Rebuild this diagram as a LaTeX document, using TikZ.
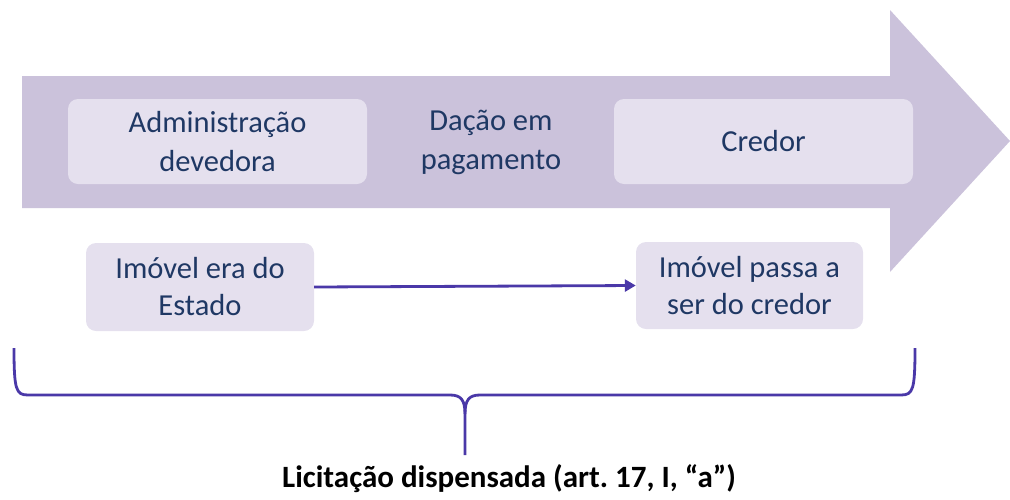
\documentclass[tikz,border=0pt]{standalone}
\usepackage{fontspec}
\setmainfont{Carlito}
\usepackage{tikz}
\usetikzlibrary{calc,arrows.meta}
\definecolor{setafill}{HTML}{CBC2DB}
\definecolor{caixafill}{HTML}{E5E0EE}
\definecolor{textoazul}{HTML}{1F3864}
\definecolor{linharoxa}{HTML}{4A38A8}

\begin{document}
\begin{tikzpicture}[x=1pt,y=-1pt,
  caixa/.style={fill=caixafill,rounded corners=10pt,text=textoazul,align=center,
    font=\fontsize{30.5}{39}\selectfont,inner sep=0pt},
  ligacao/.style={draw=linharoxa,line width=2.8pt},
  chave/.style={draw=linharoxa,line width=2.8pt}]
\useasboundingbox (0,0) rectangle (1010,499);
\fill[setafill] (22,76) -- (890,76) -- (890,10) -- (1010,141) -- (890,272) -- (890,208) -- (22,208) -- cycle;
\node[caixa,minimum width=299pt,minimum height=85pt] (devedora) at (217.5,141.5) {Administração\\devedora};
\node[text=textoazul,align=center,font=\fontsize{30.5}{39}\selectfont] (dacao) at (491,142) {Dação em\\pagamento};
\node[caixa,minimum width=299pt,minimum height=85pt] (credor) at (763.5,141.5) {Credor};
\node[caixa,minimum width=228pt,minimum height=88pt,font=\fontsize{30.5}{37}\selectfont] (estado) at (200,287) {Imóvel era do\\Estado};
\node[caixa,minimum width=227pt,minimum height=87pt,font=\fontsize{30.5}{37}\selectfont] (passa) at (749.5,285.5) {Imóvel passa a\\ser do credor};
\draw[ligacao,-{Triangle[length=11pt,width=12pt]}] (estado.east) -- (passa.west);
\coordinate (chaveesq) at (14,348);
\coordinate (chavedir) at (915,348);
\coordinate (chaveponta) at (465,455);
\draw[chave] (chaveesq) .. controls (14,390) and (16,395) .. (28,395) -- (450,395)
  .. controls (461,395) and (465,400) .. (465,414) -- (chaveponta);
\draw[chave] (chavedir) .. controls (915,390) and (913,395) .. (901,395) -- (480,395)
  .. controls (469,395) and (465,400) .. (465,414);
\node[font=\fontsize{31}{36}\selectfont\bfseries\frenchspacing,anchor=center] (licitacao) at (509,479) {Licitação dispensada (art. 17, I, “a”)};
\end{tikzpicture}
\end{document}
